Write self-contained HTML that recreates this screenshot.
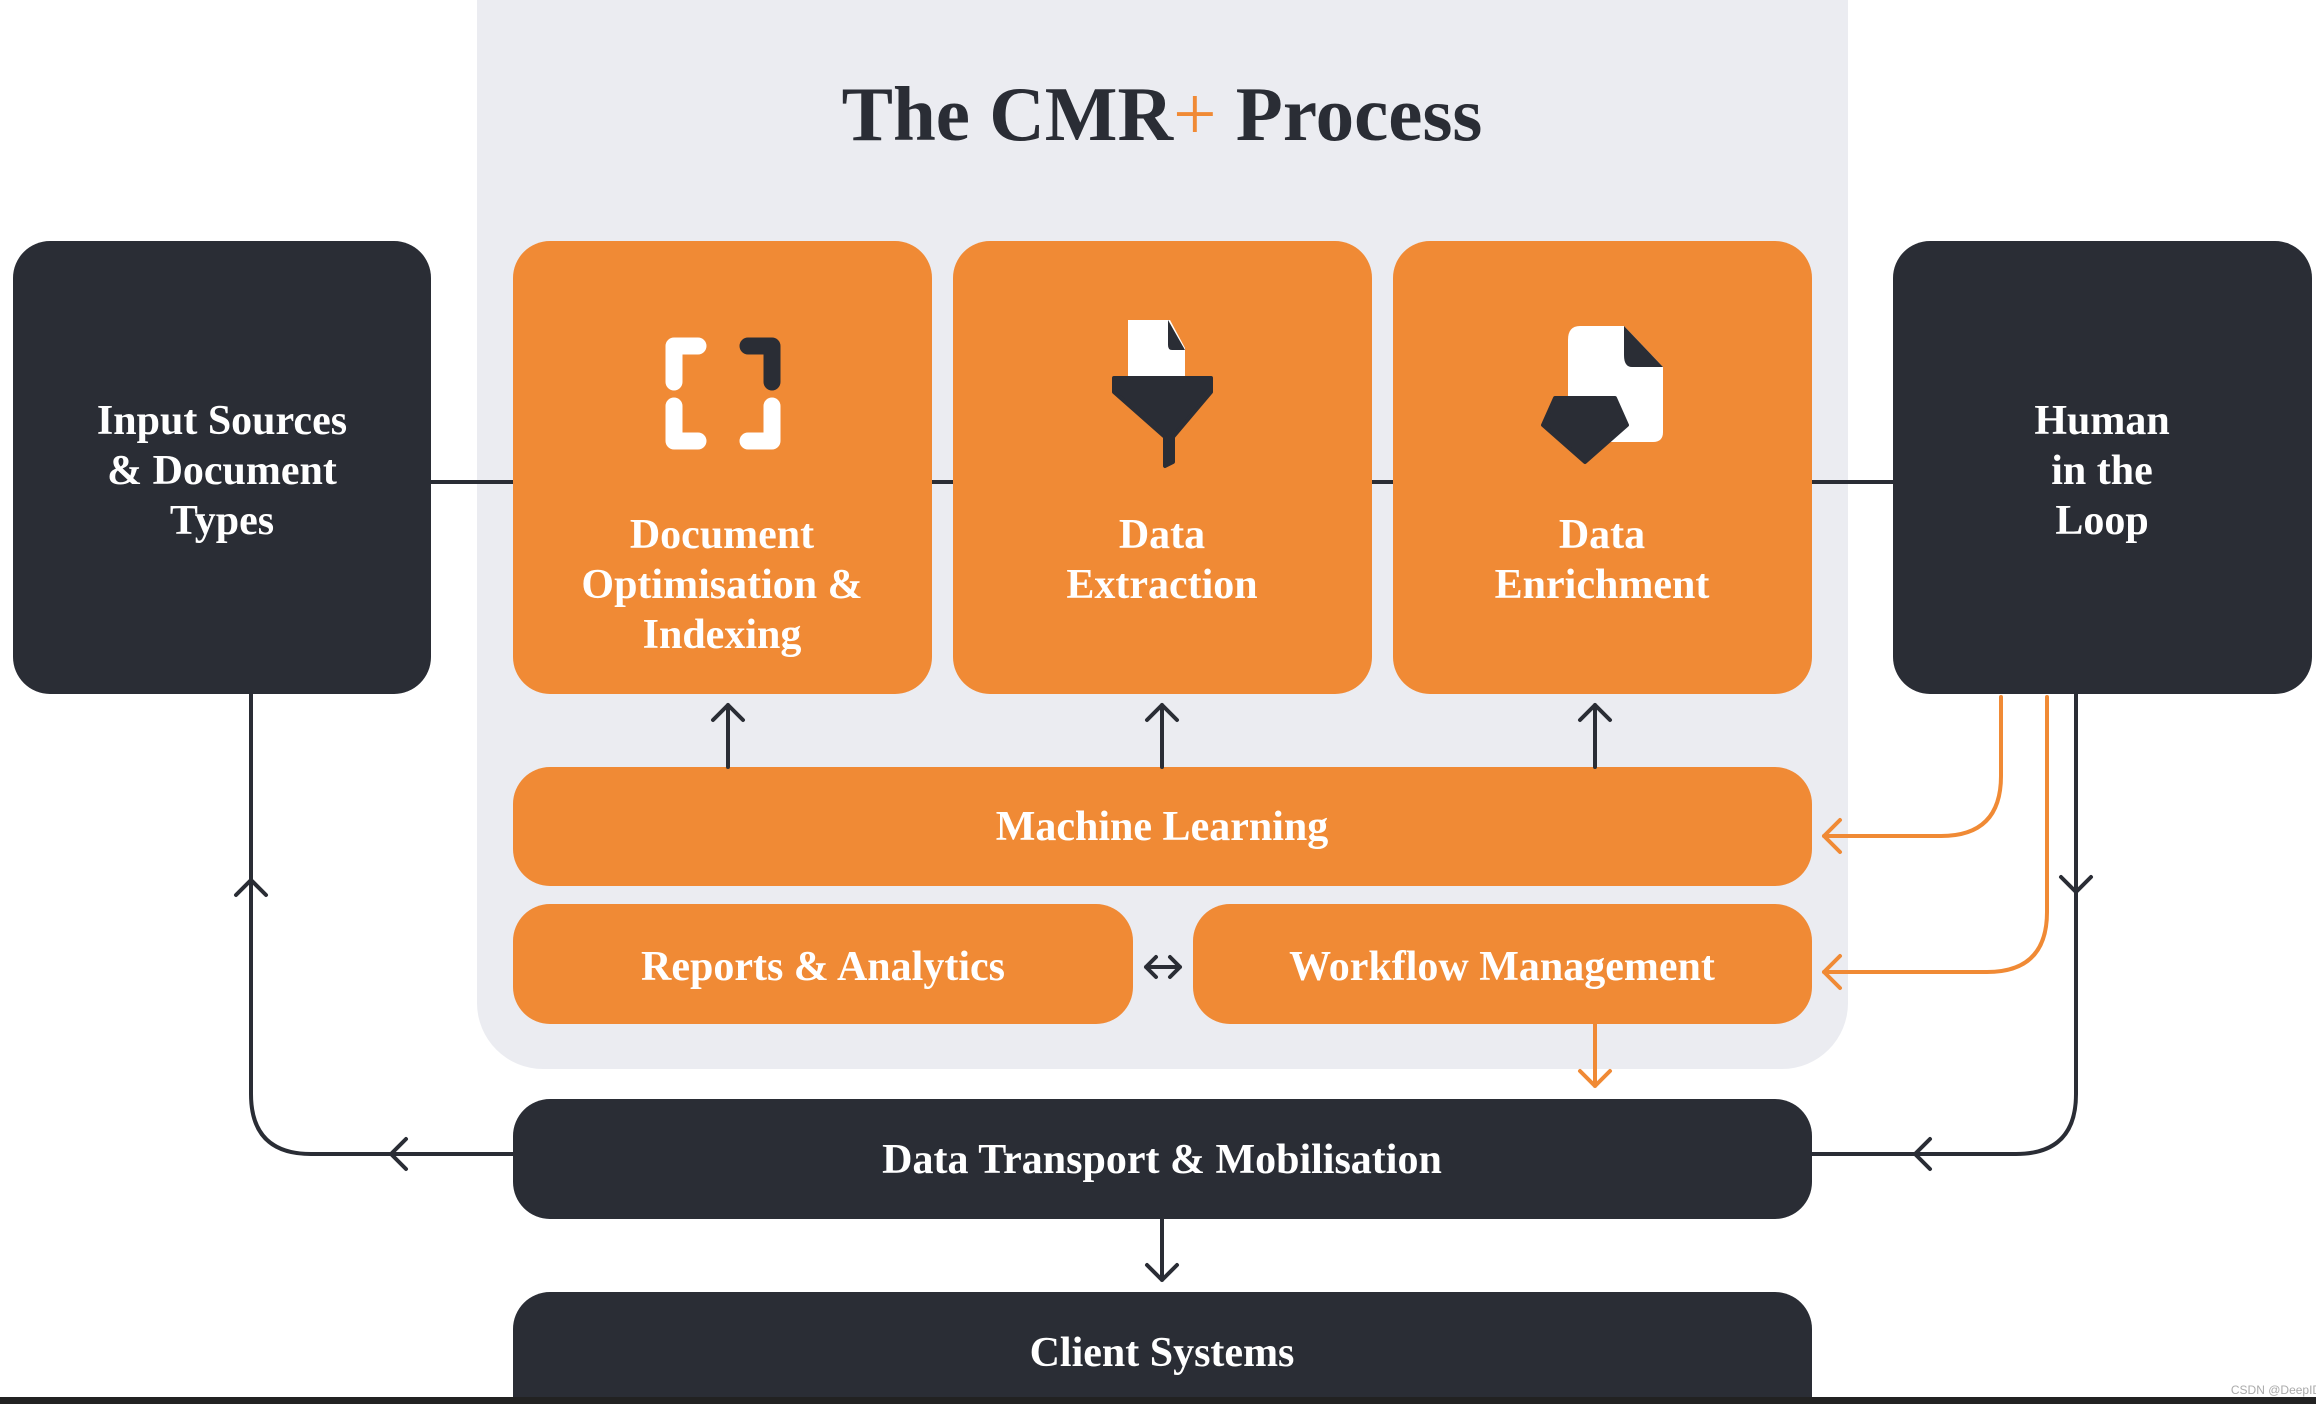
<!DOCTYPE html>
<html><head><meta charset="utf-8"><style>
html,body{margin:0;padding:0;background:#fff;}
svg{display:block;}
text{font-family:"Liberation Serif","DejaVu Serif",serif;font-weight:bold;fill:#fff;text-anchor:middle;}
</style></head><body>
<svg width="2316" height="1404" viewBox="0 0 2316 1404" xmlns="http://www.w3.org/2000/svg">
<rect x="0" y="0" width="2316" height="1404" fill="#fff"/>
<rect x="477" y="-70" width="1371" height="1139" rx="66" fill="#ebecf1"/>
<text x="1162" y="140" font-size="77" style="fill:#2a2d35">The CMR<tspan style="fill:#f08a35;font-weight:normal">+</tspan> Process</text>

<line x1="431" y1="482" x2="1893" y2="482" stroke="#2a2d35" stroke-width="4"/>

<rect x="13" y="241" width="418" height="453" rx="37" fill="#2a2d35"/>
<rect x="1893" y="241" width="419" height="453" rx="37" fill="#2a2d35"/>
<rect x="513" y="241" width="419" height="453" rx="37" fill="#f08a35"/>
<rect x="953" y="241" width="419" height="453" rx="37" fill="#f08a35"/>
<rect x="1393" y="241" width="419" height="453" rx="37" fill="#f08a35"/>

<g font-size="42">
<text x="222" y="434">Input Sources</text>
<text x="222" y="484">&amp; Document</text>
<text x="222" y="534">Types</text>
<text x="2102" y="434">Human</text>
<text x="2102" y="484">in the</text>
<text x="2102" y="534">Loop</text>
<text x="722" y="548">Document</text>
<text x="722" y="598">Optimisation &amp;</text>
<text x="722" y="648">Indexing</text>
<text x="1162" y="548">Data</text>
<text x="1162" y="598">Extraction</text>
<text x="1602" y="548">Data</text>
<text x="1602" y="598">Enrichment</text>
</g>

<g fill="none" stroke-width="17" stroke-linecap="round" stroke-linejoin="round">
<path d="M674 382 V346 H698" stroke="#fff"/>
<path d="M674 406 V441 H698" stroke="#fff"/>
<path d="M748 441 H772 V406" stroke="#fff"/>
<path d="M748 346 H772 V382" stroke="#2a2d35"/>
</g>
<path d="M1128 320 H1170 L1185 348 V382 H1128 Z" fill="#fff"/>
<path d="M1168 320 L1185 350 H1172 Q1168 350 1168 345 Z" fill="#2a2d35"/>
<path d="M1114 378 H1211 L1211 392 L1173 437 V462 L1165 466 V437 L1114 392 Z" fill="#2a2d35" stroke="#2a2d35" stroke-width="4" stroke-linejoin="round"/>
<path d="M1580 326 H1624 L1663 367 V432 Q1663 442 1653 442 H1568 V340 Q1568 326 1580 326 Z" fill="#fff"/>
<path d="M1624 326 L1663 367 H1632 Q1624 367 1624 355 Z" fill="#2a2d35"/>
<path d="M1555 398 H1615 L1627 425 L1585 462 L1543 425 Z" fill="#2a2d35" stroke="#2a2d35" stroke-width="4" stroke-linejoin="round"/>

<rect x="513" y="767" width="1299" height="119" rx="37" fill="#f08a35"/>
<rect x="513" y="904" width="620" height="120" rx="37" fill="#f08a35"/>
<rect x="1193" y="904" width="619" height="120" rx="37" fill="#f08a35"/>
<rect x="513" y="1099" width="1299" height="120" rx="37" fill="#2a2d35"/>
<rect x="513" y="1292" width="1299" height="160" rx="37" fill="#2a2d35"/>
<rect x="0" y="1397" width="2316" height="7" fill="#222"/>

<g font-size="42">
<text x="1162" y="840">Machine Learning</text>
<text x="823" y="980">Reports &amp; Analytics</text>
<text x="1502" y="980">Workflow Management</text>
<text x="1162" y="1173">Data Transport &amp; Mobilisation</text>
<text x="1162" y="1366">Client Systems</text>
</g>

<g fill="none" stroke="#2a2d35" stroke-width="4" stroke-linecap="round" stroke-linejoin="round">
<path d="M728 767 V705 M713 720 L728 705 L743 720"/>
<path d="M1162 767 V705 M1147 720 L1162 705 L1177 720"/>
<path d="M1595 767 V705 M1580 720 L1595 705 L1610 720"/>
<path d="M1146 967 H1180 M1156 957 L1146 967 L1156 977 M1170 957 L1180 967 L1170 977"/>
<path d="M1162 1219 V1280 M1147 1265 L1162 1280 L1177 1265"/>
<path d="M513 1154 H311 Q251 1154 251 1094 V694"/>
<path d="M236 895 L251 880 L266 895"/>
<path d="M406 1139 L391 1154 L406 1169"/>
<path d="M2076 694 V1094 Q2076 1154 2016 1154 H1812"/>
<path d="M2061 877 L2076 892 L2091 877"/>
<path d="M1930 1139 L1915 1154 L1930 1169"/>
</g>
<g fill="none" stroke="#f08a35" stroke-width="4" stroke-linecap="round" stroke-linejoin="round">
<path d="M2001 697 V776 Q2001 836 1941 836 H1824"/>
<path d="M1840 820 L1824 836 L1840 852"/>
<path d="M2047 697 V912 Q2047 972 1987 972 H1824"/>
<path d="M1840 956 L1824 972 L1840 988"/>
<path d="M1595 1024 V1086 M1580 1071 L1595 1086 L1610 1071"/>
</g>
<text x="2280" y="1394" font-size="12" style="fill:#aaa;font-family:'Liberation Sans',sans-serif;font-weight:normal">CSDN @DeepIDP</text>
</svg>
</body></html>
